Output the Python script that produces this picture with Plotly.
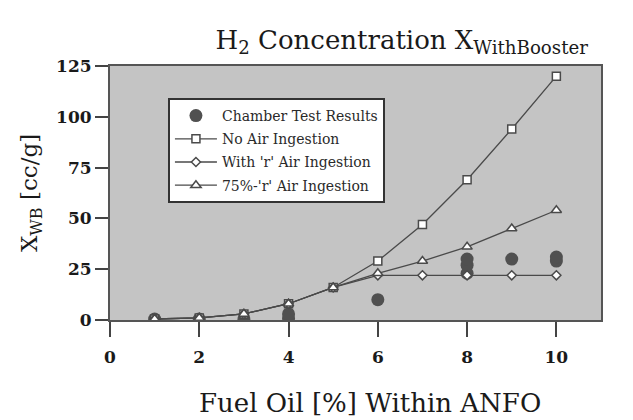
import plotly.graph_objects as go

# Data
fuel_oil = [1, 2, 3, 4, 5, 6, 7, 8, 9, 10]
no_air = [0.5, 1, 3, 8, 16, 29, 47, 69, 94, 120]
with_r_air = [0.5, 1, 3, 8, 16, 22, 22, 22, 22, 22]
r75_air = [0.5, 1, 3, 8, 16, 23, 29, 36, 45, 54]

chamber_x = [1, 2, 3, 4, 4, 6, 8, 8, 8, 9, 10, 10]
chamber_y = [0.5, 0.5, 0.3, 0.8, 3, 10, 23, 27, 30, 30, 29, 31]

x_ticks = [0, 2, 4, 6, 8, 10]
y_ticks = [0, 25, 50, 75, 100, 125]

LINE = "#4a4a4a"
FONT = "DejaVu Serif"
TXT = "#1a1a1a"

fig = go.Figure()
fig.add_trace(go.Scatter(
    x=chamber_x, y=chamber_y, mode="markers", name="Chamber Test Results",
    legendgroup="a",
    marker=dict(symbol="circle", size=13, color="#505050"),
))
fig.add_trace(go.Scatter(
    x=fuel_oil, y=no_air, mode="lines+markers", name="No Air Ingestion",
    legendgroup="b",
    line=dict(color=LINE, width=1.3),
    marker=dict(symbol="square", size=8, color="white", line=dict(color=LINE, width=1.5)),
))
fig.add_trace(go.Scatter(
    x=fuel_oil, y=with_r_air, mode="lines+markers", name="With 'r' Air Ingestion",
    legendgroup="c",
    line=dict(color=LINE, width=1.3),
    marker=dict(symbol="diamond", size=7, color="white", line=dict(color=LINE, width=1.5)),
))
fig.add_trace(go.Scatter(
    x=fuel_oil, y=r75_air, mode="lines+markers", name="75%-'r' Air Ingestion",
    legendgroup="d",
    line=dict(color=LINE, width=1.3),
    marker=dict(symbol="triangle-up", size=9, color="white", line=dict(color=LINE, width=1.5)),
))

fig.update_layout(
    width=633, height=420,
    margin=dict(l=102, r=40, t=58, b=108),
    paper_bgcolor="white",
    plot_bgcolor="#c4c4c4",
    font=dict(family=FONT, color=TXT),
    title=dict(
        text="H<sub>2</sub> Concentration X<sub>WithBooster</sub>",
        x=0.622, xanchor="center", y=0.924, yanchor="middle",
        font=dict(family=FONT, size=26, color=TXT),
    ),
    showlegend=True,
    legend=dict(
        x=0.118, y=0.874, xanchor="left", yanchor="top",
        bgcolor="white", bordercolor="#333", borderwidth=2,
        font=dict(family=FONT, size=14, color="#2a2a2a"),
        tracegroupgap=2, itemwidth=42,
    ),
    annotations=[dict(
        text="Fuel Oil [%] Within ANFO", xref="paper", yref="paper",
        x=0.53, y=-0.325, xanchor="center", yanchor="middle", showarrow=False,
        font=dict(family=FONT, size=26, color=TXT),
    )],
)
fig.update_xaxes(
    range=[0, 11], tickvals=x_ticks, ticktext=[str(v) for v in x_ticks],
    showgrid=False, zeroline=False,
    showline=True, linecolor="#555", linewidth=1.5, mirror=True,
    ticks="outside", ticklen=15, tickwidth=2, tickcolor="#444",
    ticklabelstandoff=6,
    tickfont=dict(family=FONT, size=17, color=TXT, weight="bold"),
)
fig.update_yaxes(
    range=[0, 125], tickvals=y_ticks, ticktext=[str(v) for v in y_ticks],
    showgrid=False, zeroline=False,
    showline=True, linecolor="#555", linewidth=2, mirror=True,
    ticks="outside", ticklen=13, tickwidth=2, tickcolor="#444",
    tickfont=dict(family=FONT, size=17, color=TXT, weight="bold"),
    title=dict(text="X<sub>WB</sub> [cc/g]", font=dict(family=FONT, size=23, color=TXT), standoff=12),
)

fig.write_html("out.html")
